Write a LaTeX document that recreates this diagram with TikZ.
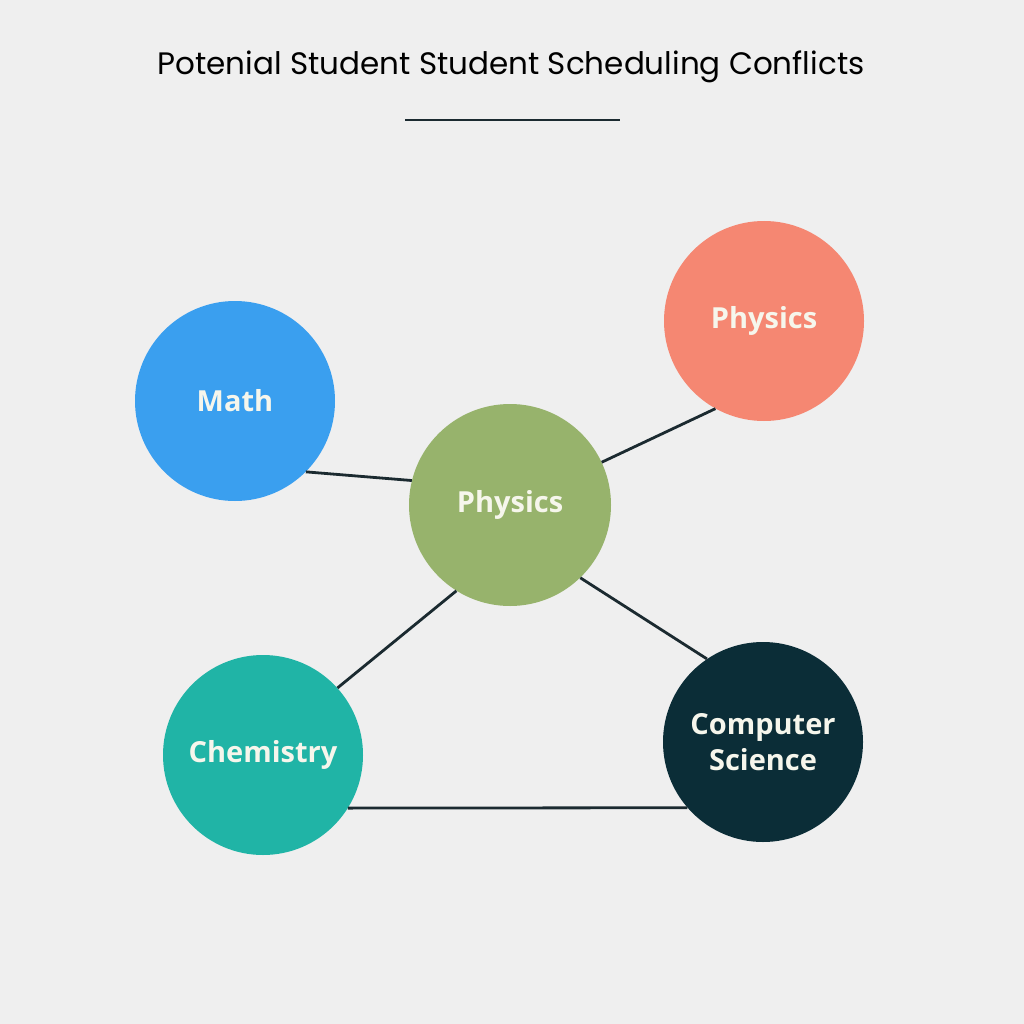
\documentclass[tikz,border=0pt]{standalone}
\usepackage{fontspec}
\setmainfont{Open Sans}
\newfontfamily\titlefont{Poppins}
\definecolor{bgc}{HTML}{EFEFEF}
\definecolor{edgec}{HTML}{1B2A30}
\definecolor{mathc}{HTML}{3A9FEF}
\definecolor{physc}{HTML}{F58772}
\definecolor{greenc}{HTML}{97B36C}
\definecolor{chemc}{HTML}{20B4A6}
\definecolor{csc}{HTML}{0B2D37}
\definecolor{labc}{HTML}{F6F6EC}
\begin{document}
\begin{tikzpicture}[x=1pt,y=-1pt,
  subj/.style={circle,minimum size=200pt,inner sep=0pt,text=labc,
    font=\fontsize{29}{36}\selectfont\bfseries,align=center},
  link/.style={draw=edgec,line width=2.8pt}]
\fill[bgc] (0,0) rectangle (1024,1024);
\useasboundingbox (0,0) rectangle (1024,1024);
\node[font=\titlefont\fontsize{31}{36}\selectfont,text=black] (title) at (511,67) {Potenial Student Student Scheduling Conflicts};
\coordinate (ul) at (405,120);
\coordinate (ur) at (620,120);
\draw[link] (ul) -- (ur);
\node[subj,fill=mathc] (math) at (235,401) {Math};
\node[subj,fill=physc] (phystr) at (764,321) {Physics};
\node[subj,fill=greenc,minimum size=202pt] (physc) at (510,505) {Physics};
\node[subj,fill=chemc] (chem) at (263,755) {Chemistry};
\node[subj,fill=csc] (cs) at (763,742) {Computer\\Science};
\draw[link] (math.-45) -- (physc.166);
\draw[link] (physc.25) -- (phystr.-119);
\draw[link] (physc.-122) -- (chem.42);
\draw[link] (physc.-46) -- (cs.124);
\draw[link] (chem.-32) -- (cs.-139);
\end{tikzpicture}
\end{document}
